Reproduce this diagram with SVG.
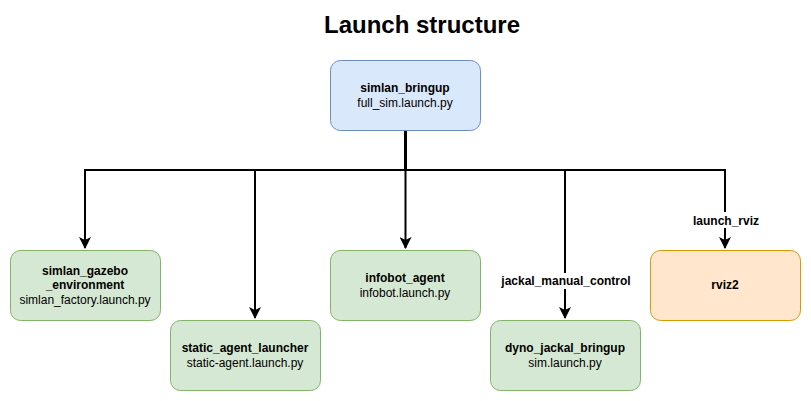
<svg xmlns="http://www.w3.org/2000/svg" width="811" height="401" viewBox="0 0 811 401">
<style>
text{font-family:"Liberation Sans",Arial,sans-serif;font-size:12px;fill:#000;text-anchor:middle}
.b{font-weight:bold}
.title{font-size:24px;font-weight:bold}
.blue{fill:#dae8fc;stroke:#6c8ebf}
.green{fill:#d5e8d4;stroke:#82b366}
.orange{fill:#ffe6cc;stroke:#d79b00}
.e{fill:none;stroke:#000;stroke-width:2}
.lbl{fill:#fff}
</style>
<defs>
<marker id="a" markerUnits="userSpaceOnUse" markerWidth="12" markerHeight="12" refX="11" refY="6" orient="auto" viewBox="0 0 12 12">
<path d="M0,0 L12,6 L0,12 L3,6 Z" fill="#000"/>
</marker>
</defs>
<rect width="811" height="401" fill="#fff"/>
<text class="title" x="422" y="33">Launch structure</text>
<g id="connectors">
<path d="M405.5,130 V170" fill="none" stroke="#000" stroke-width="3"/>
<path class="e" d="M405,170 H85 V248" marker-end="url(#a)"/>
<path class="e" d="M405,170 H255 V318" marker-end="url(#a)"/>
<path class="e" d="M405.5,170 V248" marker-end="url(#a)" stroke-width="1.6"/>
<path class="e" d="M405,170 H565 V318" marker-end="url(#a)"/>
<path class="e" d="M405,170 H725 V248" marker-end="url(#a)"/>
<rect class="lbl" x="692" y="212" width="68" height="16"/>
<text class="b" x="726" y="225">launch_rviz</text>
<rect class="lbl" x="500" y="273" width="132" height="16"/>
<text class="b" x="566" y="285">jackal_manual_control</text>
</g>
<g id="simlan_bringup">
<rect class="blue" x="330.5" y="60.5" width="150" height="70" rx="10"/>
<text class="b" x="405" y="92">simlan_bringup</text>
<text x="405" y="107">full_sim.launch.py</text>
</g>
<g id="simlan_gazebo_environment">
<rect class="green" x="10.5" y="250.5" width="150" height="70" rx="10"/>
<text class="b" x="85" y="275">simlan_gazebo</text>
<text class="b" x="85" y="289">_environment</text>
<text x="85" y="304">simlan_factory.launch.py</text>
</g>
<g id="static_agent_launcher">
<rect class="green" x="170.5" y="320.5" width="150" height="70" rx="10"/>
<text class="b" x="245" y="352">static_agent_launcher</text>
<text x="245" y="367">static-agent.launch.py</text>
</g>
<g id="infobot_agent">
<rect class="green" x="330.5" y="250.5" width="150" height="70" rx="10"/>
<text class="b" x="405" y="282">infobot_agent</text>
<text x="405" y="297">infobot.launch.py</text>
</g>
<g id="dyno_jackal_bringup">
<rect class="green" x="490.5" y="320.5" width="150" height="70" rx="10"/>
<text class="b" x="565" y="352">dyno_jackal_bringup</text>
<text x="565" y="367">sim.launch.py</text>
</g>
<g id="rviz2">
<rect class="orange" x="650.5" y="250.5" width="150" height="70" rx="10"/>
<text class="b" x="725" y="289">rviz2</text>
</g>
</svg>
